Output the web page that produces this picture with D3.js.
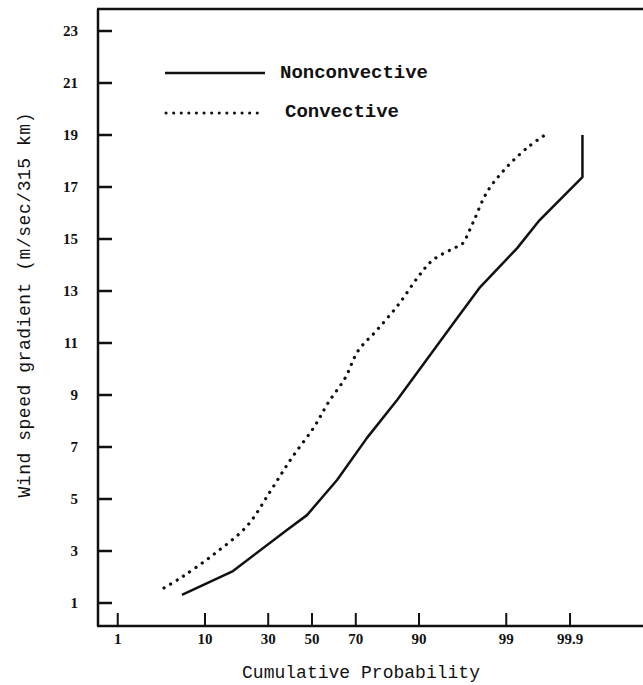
<!DOCTYPE html>
<html>
<head>
<meta charset="utf-8">
<script src="https://cdn.jsdelivr.net/npm/d3@7"></script>
<style>
  body { margin: 0; background: #fff; }
  svg { display: block; }
</style>
</head>
<body>
<svg id="chart" width="643" height="685"></svg>
<script>
// data (cumulative probability in %, gradient in m/sec/315 km)
const nonconvP = [5.97, 17.2, 38.2, 47.6, 61.8, 74.5, 84.6, 95.9, 97.8, 99.30, 99.68, 99.94, 99.94];
const nonconvV = [1.31, 2.23, 3.81, 4.38, 5.73, 7.35, 8.81, 11.96, 13.15, 14.65, 15.73, 17.38, 19.0];
const convP = [3.82, 5.97, 11.8, 21.8, 30.7, 40.1, 51.0, 57.6, 65.4, 70.9, 78.2, 85.1, 89.8, 92.6, 95.8, 96.4, 97.3, 98.2, 99.02, 99.52, 99.72];
const convV = [1.58, 2.00, 2.85, 3.96, 5.27, 6.54, 7.77, 8.69, 9.65, 10.69, 11.50, 12.50, 13.54, 14.19, 14.69, 14.81, 15.62, 16.81, 17.77, 18.54, 18.96];
const xTicks = [1, 10, 30, 50, 70, 90, 99, 99.9];
const xTickLabels = ["1", "10", "30", "50", "70", "90", "99", "99.9"];
const yTicks = [1, 3, 5, 7, 9, 11, 13, 15, 17, 19, 21, 23];
const seriesNames = ["Nonconvective", "Convective"];

// inverse normal cdf (Acklam)
function probit(p) {
  const a = [-39.69683028665376, 220.9460984245205, -275.9285104469687, 138.3577518672690, -30.66479806614716, 2.506628277459239];
  const b = [-54.47609879822406, 161.5858368580409, -155.6989798598866, 66.80131188771972, -13.28068155288572];
  const c = [-0.007784894002430293, -0.3223964580411365, -2.400758277161838, -2.549732539343734, 4.374664141464968, 2.938163982698783];
  const d = [0.007784695709041462, 0.3224671290700398, 2.445134137142996, 3.754408661907416];
  const pl = 0.02425;
  let q, r;
  if (p < pl) {
    q = Math.sqrt(-2 * Math.log(p));
    return (((((c[0]*q+c[1])*q+c[2])*q+c[3])*q+c[4])*q+c[5]) / ((((d[0]*q+d[1])*q+d[2])*q+d[3])*q+1);
  } else if (p <= 1 - pl) {
    q = p - 0.5; r = q * q;
    return (((((a[0]*r+a[1])*r+a[2])*r+a[3])*r+a[4])*r+a[5])*q / (((((b[0]*r+b[1])*r+b[2])*r+b[3])*r+b[4])*r+1);
  } else {
    q = Math.sqrt(-2 * Math.log(1 - p));
    return -(((((c[0]*q+c[1])*q+c[2])*q+c[3])*q+c[4])*q+c[5]) / ((((d[0]*q+d[1])*q+d[2])*q+d[3])*q+1);
  }
}

const margin = {top: 9, right: 0, bottom: 59, left: 98};
const width = 643, height = 685;
const svg = d3.select("#chart");

// x: probability scale -> z then linear
const zScale = d3.scaleLinear().domain([0, 1]).range([312, 312 + 83.5]);
const x = p => zScale(probit(p / 100));
const y = d3.scaleLinear().domain([1, 23]).range([603, 31]);

const ink = "#111";

// frame: left axis, bottom axis, top border
svg.append("line").attr("x1", margin.left).attr("x2", margin.left)
  .attr("y1", margin.top).attr("y2", height - margin.bottom)
  .attr("stroke", ink).attr("stroke-width", 2.5);
svg.append("line").attr("x1", margin.left - 1).attr("x2", width)
  .attr("y1", height - margin.bottom).attr("y2", height - margin.bottom)
  .attr("stroke", ink).attr("stroke-width", 2.5);
svg.append("line").attr("x1", margin.left - 1).attr("x2", width)
  .attr("y1", margin.top).attr("y2", margin.top)
  .attr("stroke", ink).attr("stroke-width", 2.5);

// y ticks
const yg = svg.append("g");
yg.selectAll("line").data(yTicks).enter().append("line")
  .attr("x1", margin.left).attr("x2", margin.left + 14)
  .attr("y1", d => y(d)).attr("y2", d => y(d))
  .attr("stroke", ink).attr("stroke-width", 2.5);
yg.selectAll("text").data(yTicks).enter().append("text")
  .attr("x", 78).attr("y", d => y(d) + 5)
  .attr("text-anchor", "end")
  .attr("font-family", "Liberation Serif")
  .attr("font-weight", "bold").attr("font-size", 15)
  .attr("fill", ink)
  .text(d => d);

// x ticks
const xg = svg.append("g");
xg.selectAll("line").data(xTicks).enter().append("line")
  .attr("x1", d => x(d)).attr("x2", d => x(d))
  .attr("y1", height - margin.bottom).attr("y2", height - margin.bottom - 13)
  .attr("stroke", ink).attr("stroke-width", 2);
xg.selectAll("text").data(xTicks).enter().append("text")
  .attr("x", d => x(d)).attr("y", 644)
  .attr("text-anchor", "middle")
  .attr("font-family", "Liberation Serif")
  .attr("font-weight", "bold").attr("font-size", 15)
  .attr("fill", ink)
  .text((d, i) => xTickLabels[i]);

// axis titles
svg.append("text")
  .attr("x", 361).attr("y", 678)
  .attr("text-anchor", "middle")
  .attr("font-family", "Liberation Mono").attr("font-size", 18)
  .attr("textLength", 238).attr("lengthAdjust", "spacing")
  .attr("fill", ink)
  .text("Cumulative Probability");
svg.append("text")
  .attr("transform", "translate(30,305) rotate(-90)")
  .attr("text-anchor", "middle")
  .attr("font-family", "Liberation Mono").attr("font-size", 18)
  .attr("textLength", 385).attr("lengthAdjust", "spacing")
  .attr("fill", ink)
  .text("Wind speed gradient (m/sec/315 km)");

// series
const nonconv = nonconvP.map((p, i) => [p, nonconvV[i]]);
const conv = convP.map((p, i) => [p, convV[i]]);
const lineGen = d3.line().x(d => x(d[0])).y(d => y(d[1]));

svg.append("path").datum(nonconv)
  .attr("d", lineGen.curve(d3.curveLinear))
  .attr("fill", "none").attr("stroke", ink)
  .attr("stroke-width", 2.5).attr("stroke-linejoin", "round");

svg.append("path").datum(conv)
  .attr("d", d3.line().x(d => x(d[0])).y(d => y(d[1])).curve(d3.curveCatmullRom.alpha(0.5)))
  .attr("fill", "none").attr("stroke", ink)
  .attr("stroke-width", 3.2).attr("stroke-linecap", "round")
  .attr("stroke-dasharray", "0.1,7.5");

// legend
const legend = svg.append("g");
legend.append("line").attr("x1", 165).attr("x2", 265).attr("y1", 73).attr("y2", 73)
  .attr("stroke", ink).attr("stroke-width", 2.5);
legend.append("line").attr("x1", 166).attr("x2", 262).attr("y1", 113).attr("y2", 113)
  .attr("stroke", ink).attr("stroke-width", 3).attr("stroke-linecap", "round")
  .attr("stroke-dasharray", "0.1,7.5");
legend.append("text").attr("x", 280).attr("y", 78)
  .attr("font-family", "Liberation Mono").attr("font-size", 19).attr("font-weight", "bold")
  .attr("textLength", 148).attr("lengthAdjust", "spacing")
  .attr("fill", ink).text(seriesNames[0]);
legend.append("text").attr("x", 285).attr("y", 117)
  .attr("font-family", "Liberation Mono").attr("font-size", 19).attr("font-weight", "bold")
  .attr("textLength", 114).attr("lengthAdjust", "spacing")
  .attr("fill", ink).text(seriesNames[1]);
</script>
</body>
</html>
